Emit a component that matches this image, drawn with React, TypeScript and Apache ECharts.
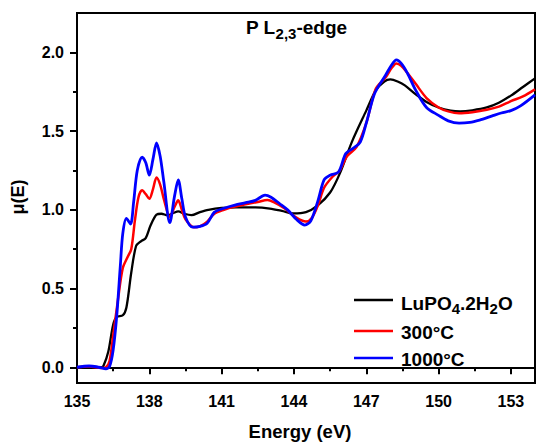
import React, { useEffect, useRef } from "react";
import * as echarts from "echarts";

// ---- data ----
const seriesNames = ["LuPO4.2H2O", "300°C", "1000°C"];
const seriesColors = ["#000000", "#ff0000", "#0000ff"];

const blackE = [135.0, 135.5, 136.0, 136.1, 136.3, 136.5, 136.65, 136.9, 137.05, 137.25, 137.45, 137.65, 137.85, 138.05, 138.3, 138.5, 138.75, 139.0, 139.2, 139.45, 139.75, 140.1, 140.45, 141.0, 141.6, 142.4, 143.0, 143.5, 143.95, 144.5, 145.0, 145.5, 145.9, 146.4, 147.0, 147.4, 147.75, 148.0, 148.3, 148.6, 149.0, 149.5, 150.0, 150.5, 150.9, 151.4, 152.0, 152.5, 153.0, 153.5, 154.0];
const blackMu = [0.0, 0.005, 0.0, 0.01, 0.1, 0.27, 0.32, 0.33, 0.38, 0.6, 0.77, 0.8, 0.82, 0.9, 0.97, 0.975, 0.965, 0.98, 0.99, 0.975, 0.966, 0.985, 1.0, 1.012, 1.015, 1.015, 1.008, 0.993, 0.977, 0.985, 1.03, 1.11, 1.23, 1.43, 1.63, 1.76, 1.815, 1.828, 1.815, 1.79, 1.74, 1.685, 1.65, 1.63, 1.625, 1.632, 1.65, 1.68, 1.725, 1.78, 1.835];

const redE = [135.0, 135.5, 136.0, 136.2, 136.35, 136.5, 136.7, 136.9, 137.1, 137.25, 137.4, 137.55, 137.7, 137.85, 138.0, 138.15, 138.3, 138.45, 138.6, 138.85, 139.05, 139.2, 139.35, 139.5, 139.85, 140.1, 140.4, 140.7, 141.1, 141.55, 142.0, 142.5, 142.9, 143.2, 143.6, 144.1, 144.5, 144.75, 145.0, 145.25, 145.6, 145.9, 146.2, 146.6, 147.0, 147.4, 147.8, 148.05, 148.25, 148.45, 148.7, 149.05, 149.5, 150.0, 150.4, 150.85, 151.4, 152.0, 152.5, 153.0, 153.5, 154.0];
const redMu = [0.0, 0.005, -0.005, 0.0, 0.04, 0.2, 0.43, 0.63, 0.7, 0.75, 0.93, 1.08, 1.125, 1.1, 1.07, 1.13, 1.205, 1.16, 1.07, 0.955, 1.02, 1.06, 1.0, 0.94, 0.89, 0.895, 0.925, 0.975, 1.0, 1.02, 1.035, 1.05, 1.062, 1.045, 1.01, 0.95, 0.925, 0.95, 1.03, 1.14, 1.21, 1.25, 1.34, 1.4, 1.55, 1.77, 1.84, 1.9, 1.93, 1.915, 1.87, 1.8, 1.71, 1.65, 1.625, 1.613, 1.62, 1.635, 1.655, 1.69, 1.72, 1.765];

const blueE = [135.0, 135.5, 135.9, 136.2, 136.35, 136.5, 136.65, 136.8, 136.9, 137.05, 137.22, 137.35, 137.5, 137.7, 137.85, 138.0, 138.15, 138.3, 138.45, 138.6, 138.85, 139.05, 139.2, 139.35, 139.5, 139.8, 140.1, 140.4, 140.7, 141.1, 141.55, 142.0, 142.4, 142.8, 143.05, 143.4, 143.75, 144.1, 144.45, 144.7, 145.0, 145.25, 145.5, 145.85, 146.15, 146.45, 146.75, 147.0, 147.35, 147.8, 148.05, 148.25, 148.45, 148.7, 149.05, 149.5, 150.0, 150.4, 150.85, 151.3, 151.7, 152.2, 152.6, 153.0, 153.4, 154.0];
const blueMu = [0.0, 0.008, 0.0, -0.01, 0.005, 0.11, 0.33, 0.65, 0.85, 0.945, 0.91, 1.05, 1.25, 1.335, 1.3, 1.22, 1.32, 1.425, 1.34, 1.18, 0.918, 1.09, 1.19, 1.07, 0.955, 0.89, 0.895, 0.915, 0.985, 1.01, 1.03, 1.045, 1.06, 1.093, 1.08, 1.04, 0.998, 0.94, 0.903, 0.93, 1.06, 1.19, 1.22, 1.24, 1.357, 1.39, 1.43, 1.55, 1.74, 1.855, 1.92, 1.952, 1.93, 1.87, 1.76, 1.65, 1.6, 1.565, 1.55, 1.555, 1.57, 1.595, 1.615, 1.63, 1.66, 1.73];

const xTicks = [135, 138, 141, 144, 147, 150, 153];
const xMinorTicks = [136.5, 139.5, 142.5, 145.5, 148.5, 151.5];
const yTicks = [0, 0.5, 1.0, 1.5, 2.0];
const yMinorTicks = [0.25, 0.75, 1.25, 1.75];

const FONT = "'Liberation Sans', Arial, sans-serif";

const zip = (xs: number[], ys: number[]) => xs.map((x, i) => [x, ys[i]]);

export default function App() {
  const ref = useRef<HTMLDivElement>(null);
  useEffect(() => {
    if (!ref.current) return;
    const chart = echarts.init(ref.current, undefined, { renderer: "svg" });
    const labelStyle = { fontFamily: FONT, fontWeight: "bold" as const, fontSize: 16, color: "#000" };
    const mkSeries = (name: string, data: number[][], color: string, width: number) => ({
      name,
      type: "line",
      data,
      smooth: 0.3,
      symbol: "none",
      showSymbol: false,
      lineStyle: { color, width },
      itemStyle: { color },
      xAxisIndex: 0,
      yAxisIndex: 0,
    });
    const richMain = { fontFamily: FONT, fontWeight: "bold", fontSize: 19, fill: "#000", lineHeight: 19, padding: [3, 0, 3, 0], verticalAlign: "top" };
    const richSub = { fontFamily: FONT, fontWeight: "bold", fontSize: 15, fill: "#000", lineHeight: 15, padding: [10, 0, 0, 0], verticalAlign: "top" };
    const legendY = [300, 331, 358];
    const legendGraphics: any[] = [];
    seriesNames.forEach((name, i) => {
      legendGraphics.push({
        type: "line",
        shape: { x1: 354, y1: legendY[i], x2: 393, y2: legendY[i] },
        style: { stroke: seriesColors[i], lineWidth: 2.5 },
      });
      legendGraphics.push(
        i === 0
          ? {
              type: "text",
              x: 401,
              y: legendY[i],
              style: {
                text: "{a|LuPO}{s|4}{a|.2H}{s|2}{a|O}",
                rich: { a: richMain, s: richSub },
                align: "left",
                verticalAlign: "middle",
              },
            }
          : {
              type: "text",
              x: 401,
              y: legendY[i] + 1,
              style: {
                text: name,
                font: `bold 19px ${FONT}`,
                fill: "#000",
                align: "left",
                verticalAlign: "middle",
              },
            }
      );
    });
    chart.setOption({
      animation: false,
      backgroundColor: "#fff",
      grid: {
        left: 77,
        top: 13,
        right: 1,
        bottom: 62,
        show: true,
        borderColor: "#000",
        borderWidth: 2,
        backgroundColor: "transparent",
      },
      xAxis: [
        {
          type: "value",
          min: 135,
          max: 154,
          position: "bottom",
          axisLine: { show: true, lineStyle: { color: "#000", width: 2 } },
          axisTick: { show: true, length: 7, lineStyle: { color: "#000", width: 2 }, customValues: xTicks },
          axisLabel: { ...labelStyle, margin: 10, customValues: xTicks },
          splitLine: { show: false },
        },
        {
          type: "value",
          min: 135,
          max: 154,
          position: "bottom",
          offset: 0,
          axisLine: { show: false },
          axisTick: { show: true, length: 4, lineStyle: { color: "#000", width: 2 }, customValues: xMinorTicks },
          axisLabel: { show: false },
          splitLine: { show: false },
        },
      ],
      yAxis: [
        {
          type: "value",
          min: -0.1,
          max: 2.25,
          position: "left",
          axisLine: { show: true, lineStyle: { color: "#000", width: 2 } },
          axisTick: { show: true, length: 7, lineStyle: { color: "#000", width: 2 }, customValues: yTicks },
          axisLabel: { ...labelStyle, margin: 13, customValues: yTicks, formatter: (v: number) => v.toFixed(1) },
          splitLine: { show: false },
        },
        {
          type: "value",
          min: -0.1,
          max: 2.25,
          position: "left",
          offset: 0,
          axisLine: { show: false },
          axisTick: { show: true, length: 4, lineStyle: { color: "#000", width: 2 }, customValues: yMinorTicks },
          axisLabel: { show: false },
          splitLine: { show: false },
        },
      ],
      graphic: [
        {
          type: "text",
          left: 246,
          top: 16,
          style: {
            text: "{a|P L}{s|2,3}{a|-edge}",
            rich: {
              a: { fontFamily: FONT, fontWeight: "bold", fontSize: 19, fill: "#000", lineHeight: 19, padding: [2, 0, 4, 0], verticalAlign: "top" },
              s: { fontFamily: FONT, fontWeight: "bold", fontSize: 15, fill: "#000", lineHeight: 15, padding: [10, 0, 0, 0], verticalAlign: "top" },
            },
          },
        },
        {
          type: "text",
          x: 300,
          y: 431,
          style: {
            text: "Energy (eV)",
            font: `bold 18.5px ${FONT}`,
            fill: "#000",
            align: "center",
            verticalAlign: "middle",
          },
        },
        {
          type: "text",
          x: 18,
          y: 197,
          rotation: Math.PI / 2,
          style: {
            text: "μ(E)",
            font: `bold 18px ${FONT}`,
            fill: "#000",
            align: "center",
            verticalAlign: "middle",
          },
        },
        ...legendGraphics,
      ],
      series: [
        mkSeries(seriesNames[0], zip(blackE, blackMu), seriesColors[0], 2.3),
        mkSeries(seriesNames[1], zip(redE, redMu), seriesColors[1], 2.5),
        mkSeries(seriesNames[2], zip(blueE, blueMu), seriesColors[2], 2.8),
      ],
    });
    return () => chart.dispose();
  }, []);
  return <div ref={ref} style={{ width: 536, height: 445, position: "absolute", left: 0, top: 0 }} />;
}
